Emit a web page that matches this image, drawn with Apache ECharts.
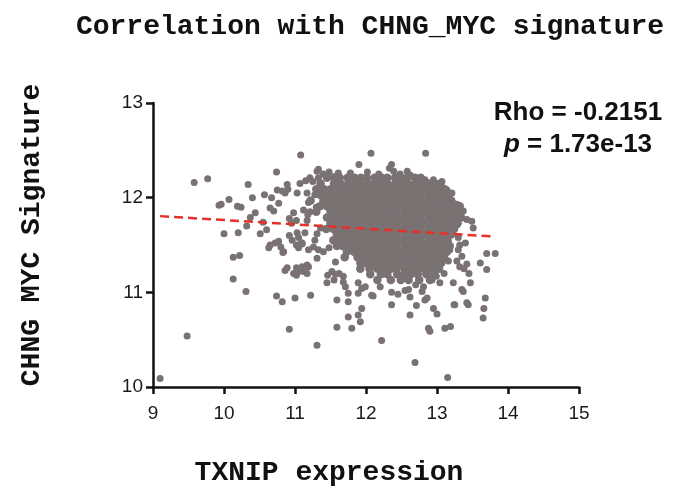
<!DOCTYPE html>
<html>
<head>
<meta charset="utf-8">
<script src="https://cdn.jsdelivr.net/npm/echarts@6/dist/echarts.min.js"></script>
<style>
html,body{margin:0;padding:0;background:#fff;}
#chart{width:675px;height:489px;}
</style>
</head>
<body>
<div id="chart"></div>
<script>
// ---- Data ----
const xTicks = [9, 10, 11, 12, 13, 14, 15];
const yTicks = [10, 11, 12, 13];

// Dense central cluster: rows (y value) with x positions
const clusterRowY = [12.21, 12.15, 12.09, 12.03, 11.97, 11.91, 11.85, 11.79, 11.73, 11.67, 11.61, 11.55, 11.49, 11.43, 11.37, 11.31, 11.25, 11.19, 11.13];
const clusterRowX = [
 [11.45,11.55,11.63,11.74,11.84,11.93,12.01,12.12,12.22,12.30,12.41,12.50,12.58,12.69,12.77],
 [11.36,11.55,11.64,11.75,11.84,11.92,12.03,12.13,12.22,12.30,12.41,12.51,12.59,12.69,12.80,12.88,12.97,13.05],
 [11.30,11.41,11.50,11.58,11.69,11.79,11.88,11.96,12.07,12.17,12.26,12.34,12.45,12.55,12.63,12.73,12.84,12.92,13.02,13.11],
 [11.35,11.45,11.54,11.62,11.73,11.83,11.92,12.00,12.11,12.21,12.30,12.38,12.49,12.59,12.67,12.77,12.88,12.96,13.06,13.16],
 [11.22,11.40,11.50,11.59,11.67,11.78,11.88,11.97,12.05,12.16,12.26,12.35,12.43,12.54,12.64,12.72,12.82,12.93,13.01,13.11,13.20],
 [11.35,11.45,11.54,11.62,11.73,11.83,11.92,12.00,12.11,12.21,12.30,12.38,12.49,12.59,12.67,12.77,12.88,12.96,13.06,13.15,13.25,13.32],
 [11.30,11.50,11.59,11.67,11.78,11.88,11.97,12.05,12.16,12.26,12.35,12.43,12.54,12.64,12.72,12.82,12.93,13.01,13.11,13.20,13.30],
 [11.45,11.54,11.62,11.73,11.83,11.92,12.00,12.11,12.21,12.30,12.38,12.49,12.59,12.67,12.77,12.88,12.96,13.06,13.15,13.25,13.34],
 [11.50,11.59,11.67,11.78,11.88,11.97,12.05,12.16,12.26,12.35,12.43,12.54,12.64,12.72,12.82,12.93,13.01,13.11,13.20,13.29],
 [11.44,11.54,11.62,11.73,11.83,11.92,12.00,12.11,12.21,12.30,12.38,12.49,12.59,12.67,12.77,12.88,12.96,13.06,13.15,13.24],
 [11.59,11.67,11.78,11.88,11.97,12.05,12.16,12.26,12.35,12.43,12.54,12.64,12.72,12.82,12.93,13.01,13.11,13.20],
 [11.54,11.62,11.73,11.83,11.92,12.00,12.11,12.21,12.30,12.38,12.49,12.59,12.67,12.77,12.88,12.96,13.06,13.15],
 [11.59,11.67,11.78,11.88,11.97,12.05,12.16,12.26,12.35,12.43,12.54,12.64,12.72,12.82,12.93,13.01,13.11,13.18],
 [11.73,11.83,11.92,12.00,12.11,12.21,12.30,12.38,12.49,12.59,12.67,12.77,12.88,12.96,13.06,13.14],
 [11.70,11.88,11.97,12.05,12.16,12.26,12.35,12.43,12.54,12.64,12.72,12.82,12.93,13.01,13.10],
 [11.92,12.00,12.11,12.21,12.30,12.38,12.49,12.59,12.67,12.77,12.88,12.96,13.06],
 [11.92,12.05,12.16,12.26,12.35,12.43,12.54,12.64,12.72,12.82,12.93,13.03],
 [12.06,12.21,12.30,12.44,12.54,12.63,12.73,12.85,12.96],
 [12.16,12.35,12.49,12.60,12.75,12.90]
];

// Scattered points around the cluster
const leftScatter = [
 [9.10,10.09],[9.48,10.54],[9.58,12.16],[9.77,12.20],
 [9.96,11.93],[9.93,11.92],[10.07,11.98],[10.19,11.91],[10.24,11.90],[10.34,12.14],[10.40,12.00],[10.57,12.03],
 [10.00,11.62],[10.20,11.63],[10.13,11.37],[10.22,11.39],[10.13,11.14],[10.31,11.01],
 [10.32,11.70],[10.37,11.79],[10.44,11.84],[10.51,11.62],[10.60,11.66],[10.55,11.74],
 [10.63,11.47],[10.72,11.52],[10.77,11.54],[10.84,11.43],
 [10.65,11.89],[10.70,11.86],[10.67,12.00],[10.77,11.94],
 [10.74,12.27],[11.08,12.45],
 [10.75,12.08],[10.82,12.07],[10.89,12.14],[10.86,12.05],[10.90,12.09],[11.03,12.05],
 [10.89,11.26],[11.02,11.26],
 [10.92,11.78],[10.98,11.84],[11.02,11.76],[10.95,11.73],
 [10.92,11.60],[10.96,11.55],[11.02,11.50],[11.05,11.58],[11.09,11.52],[11.03,11.63],
 [10.74,10.96],[10.82,10.90],[11.00,10.94],[11.22,10.97],[10.92,10.61],[11.31,10.44],
 [10.86,11.23],[10.98,11.20],[11.02,11.18],[11.05,11.22],[11.17,11.29],[11.19,11.27],
 [10.83,11.42],[10.65,11.50],[10.80,11.48],[11.05,11.47],[11.10,11.51]
];
const upperScatter = [
 [11.07,12.15],[11.15,12.18],[11.25,12.17],[11.31,12.28],[11.33,12.30],
 [11.17,11.76],[11.21,11.85],[11.19,11.95],[11.28,12.03],[11.18,11.82],[11.30,11.90],
 [11.21,12.21],[11.17,12.05],[11.12,11.87],[11.14,11.63],[11.10,11.52],[11.19,11.45],[11.31,11.36],
 [11.26,11.48],[11.28,11.55],[11.31,11.62],[11.36,11.68],
 [11.33,12.21],[11.40,12.25],[11.48,12.27],[11.55,12.22],[11.61,12.26],
 [11.90,12.35],[12.07,12.47],[12.84,12.47],[11.78,12.26],[12.02,12.27],[12.18,12.25],
 [12.36,12.35],[12.33,12.31],[12.39,12.28],[12.58,12.28],[12.62,12.24],[12.48,12.25],
 [12.83,12.19],[12.95,12.19],[13.07,12.17],[13.14,12.08],[13.21,12.05],[13.23,11.94],
 [13.28,11.93],[13.37,11.86],[13.42,11.77],[13.49,11.75],[13.51,11.68],[13.28,11.71],[13.21,11.64]
];
const rightScatter = [
 [13.70,11.41],[13.82,11.41],[13.70,11.24],[13.47,11.10],[13.61,11.31],
 [13.30,11.45],[13.35,11.38],[13.42,11.30],[13.38,11.25],[13.45,11.20],[13.32,11.50],[13.40,11.52],
 [13.16,11.33],[13.18,11.45],[13.23,11.10],[13.25,10.87],[13.32,11.27],[13.28,11.33],[13.30,11.58],
 [13.68,10.94],[13.66,10.83],[13.65,10.73],
 [13.24,10.87],[13.42,10.89],[13.44,10.87],[13.37,11.01],[13.35,11.03],
 [13.04,11.10],[12.99,11.17],[12.93,11.13],[13.10,11.20]
];
const lowerScatter = [
 [11.59,10.63],[11.59,10.92],[11.57,11.19],[11.45,11.10],[11.57,11.32],
 [11.33,11.45],[11.40,11.43],[11.48,11.47],
 [12.62,10.76],[12.36,10.87],[12.22,10.49],[12.69,10.26],[13.15,10.10],
 [12.88,10.62],[12.90,10.59],[13.11,10.62],[13.19,10.64],[12.95,10.83],[13.00,10.77],
 [12.83,10.92],[12.86,10.94],[12.79,11.01],[12.81,11.06],[12.71,10.86],
 [11.80,10.62],[11.75,10.74],[11.89,10.76],[11.92,10.69],
 [11.75,10.90],[11.94,10.83],[11.75,10.99],[11.89,10.99],[12.10,10.96],[11.71,11.06],[11.94,11.04],[12.08,10.97],
 [11.46,11.18],[11.55,11.13],[11.62,11.20],[11.68,11.11],[11.52,11.22],[11.68,11.17],[11.89,11.10],[11.99,11.06],
 [11.10,11.27],[11.12,11.22],[11.17,11.20],
 [12.36,11.00],[12.45,10.98],[12.55,11.02],[12.62,10.95],[12.60,11.03],[12.20,11.06],[12.70,11.08]
];

// Dashed regression line endpoints
const fitX = [9.10, 13.79];
const fitY = [11.805, 11.59];

const rhoText = 'Rho = -0.2151';
const pValue = '1.73e-13';

// ---- Build ----
const clusterPoints = [];
clusterRowY.forEach((y, i) => clusterRowX[i].forEach(x => clusterPoints.push([x, y])));
const scatterPoints = [];
[leftScatter, upperScatter, rightScatter, lowerScatter].forEach(a => a.forEach(p => scatterPoints.push(p)));
const fitLine = fitX.map((x, i) => [x, fitY[i]]);

const chart = echarts.init(document.getElementById('chart'), null, {renderer: 'canvas'});
const sansFamily = "'Liberation Sans', Arial, sans-serif";
const axisFont = {fontFamily: sansFamily, fontSize: 19, color: '#1a1a1a'};
const monoFont = "'Liberation Mono', 'Courier New', monospace";
const pointColor = '#7a7272';

chart.setOption({
  animation: false,
  backgroundColor: '#ffffff',
  grid: {left: 153, top: 103, width: 426, height: 284, containLabel: false},
  xAxis: {
    type: 'value', min: xTicks[0], max: xTicks[xTicks.length - 1], interval: 1,
    axisLine: {show: true, lineStyle: {color: '#111', width: 2.5}},
    axisTick: {show: true, inside: false, length: 7, lineStyle: {color: '#111', width: 2.5}},
    axisLabel: Object.assign({margin: 17}, axisFont),
    splitLine: {show: false}
  },
  yAxis: {
    type: 'value', min: yTicks[0], max: yTicks[yTicks.length - 1], interval: 1,
    axisLine: {show: true, lineStyle: {color: '#111', width: 2.5}},
    axisTick: {show: true, inside: false, length: 7, lineStyle: {color: '#111', width: 2.5}},
    axisLabel: Object.assign({margin: 10}, axisFont),
    splitLine: {show: false}
  },
  series: [
    {
      type: 'scatter', data: clusterPoints, symbolSize: 8.5, z: 2,
      itemStyle: {color: pointColor, opacity: 1}
    },
    {
      type: 'scatter', data: scatterPoints, symbolSize: 7, z: 2,
      itemStyle: {color: pointColor, opacity: 1}
    },
    {
      type: 'line', data: fitLine, symbol: 'none', z: 3,
      lineStyle: {color: '#e8302a', width: 2.5, type: [9, 5]}
    }
  ],
  graphic: [
    {
      type: 'text', x: 370, y: 27,
      style: {text: 'Correlation with CHNG_MYC signature', font: "bold 28px " + monoFont,
        fill: '#111', textAlign: 'center', textVerticalAlign: 'middle'}
    },
    {
      type: 'text', x: 32, y: 235, rotation: Math.PI / 2,
      style: {text: 'CHNG MYC Signature', font: "bold 28px " + monoFont,
        fill: '#111', textAlign: 'center', textVerticalAlign: 'middle'}
    },
    {
      type: 'text', x: 329, y: 473,
      style: {text: 'TXNIP expression', font: "bold 28px " + monoFont,
        fill: '#111', textAlign: 'center', textVerticalAlign: 'middle'}
    },
    {
      type: 'text', x: 578, y: 113,
      style: {text: rhoText, font: "bold 26px " + sansFamily,
        fill: '#111', textAlign: 'center', textVerticalAlign: 'middle'}
    },
    {
      type: 'text', x: 578, y: 145,
      style: {
        text: '{i|p} = ' + pValue,
        textAlign: 'center', textVerticalAlign: 'middle',
        font: "bold 26px " + sansFamily, fill: '#111',
        rich: {i: {fontStyle: 'italic', fontWeight: 'bold', fontSize: 26, fontFamily: sansFamily, fill: '#111', color: '#111'}}
      }
    }
  ]
});
</script>
</body>
</html>
